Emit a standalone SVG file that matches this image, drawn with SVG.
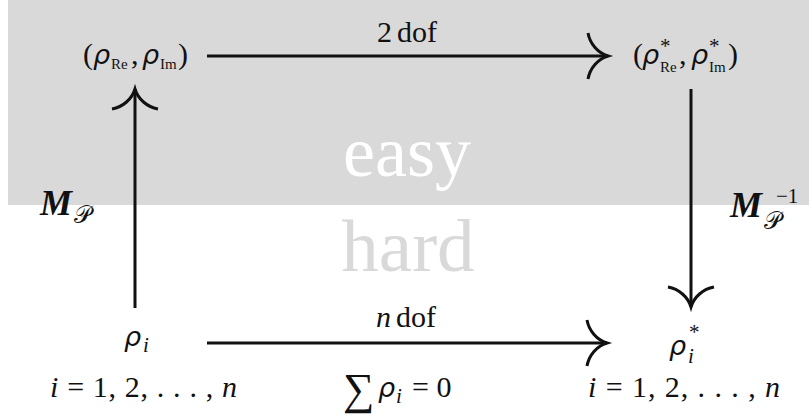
<svg xmlns="http://www.w3.org/2000/svg" width="809" height="419" viewBox="0 0 809 419">
  <style>
    text { fill: #111; }
    .m { font-size: 30px; }
    .it { font-style: italic; }
    .rho { font-style: italic; font-size: 27px; }
    .sub { font-size: 15px; }
    .sc { font-size: 21px; }
    .big { font-size: 72px; }
    .bm { font-weight: bold; font-style: italic; font-size: 36px; }
    .cal { font-size: 24px; }
    .conn { stroke: #111; stroke-width: 3; fill: none; marker-end: url(#arr); }
  </style>
  <defs>
    <marker id="arr" markerUnits="userSpaceOnUse" orient="auto" refX="0" refY="0" markerWidth="30" markerHeight="60" viewBox="-25 -30 30 60" overflow="visible">
      <path d="M-20,-23 C-18,-12 -10,-3 0,0 C-10,3 -18,12 -20,23" fill="none" stroke="#111" stroke-width="3"/>
    </marker>
  </defs>

  <rect x="8" y="0" width="801" height="205" fill="#d9d9d9"/>

  <g id="region-labels">
    <text x="407" y="176" text-anchor="middle" class="big" style="font-family:'Liberation Serif', serif;fill:#ffffff">easy</text>
    <text x="408" y="271" text-anchor="middle" class="big" style="font-family:'Liberation Serif', serif;fill:#d9d9d9;font-size:75px">hard</text>
  </g>

  <g id="connectors">
    <path class="conn" d="M207,56 L608,56"/>
    <path class="conn" d="M207,343 L607,343"/>
    <path class="conn" d="M135,308 L135,89"/>
    <path class="conn" d="M691,89 L691,307"/>
  </g>

  <g id="edge-labels">
    <text x="407" y="42" text-anchor="middle" class="m" style="font-family:'Liberation Serif', serif">2<tspan dx="5">dof</tspan></text>
    <text x="406" y="327" text-anchor="middle" class="m" style="font-family:'Liberation Serif', serif"><tspan class="it">n</tspan><tspan dx="5">dof</tspan></text>
    <text x="40" y="215" class="bm" style="font-family:'Liberation Serif', serif">M</text>
    <text x="74" y="223" class="cal" style="font-family:'Liberation Serif', serif">𝒫</text>
    <text x="730" y="217" class="bm" style="font-family:'Liberation Serif', serif">M</text>
    <text x="764" y="229" class="cal" style="font-family:'Liberation Serif', serif">𝒫</text>
    <text x="776" y="203" class="sc" style="font-family:'Liberation Serif', serif">−1</text>
  </g>

  <g id="node-top-left">
    <text x="83" y="64" class="m" style="font-family:'Liberation Serif', serif">(</text>
    <text x="93" y="64" class="rho" style="font-family:'DejaVu Sans', sans-serif">ρ</text>
    <text x="111" y="69" class="sub" style="font-family:'Liberation Serif', serif">Re</text>
    <text x="131" y="64" class="m" style="font-family:'Liberation Serif', serif">,</text>
    <text x="142" y="64" class="rho" style="font-family:'DejaVu Sans', sans-serif">ρ</text>
    <text x="160" y="69" class="sub" style="font-family:'Liberation Serif', serif">Im</text>
    <text x="178" y="64" class="m" style="font-family:'Liberation Serif', serif">)</text>
  </g>

  <g id="node-top-right">
    <text x="633" y="64" class="m" style="font-family:'Liberation Serif', serif">(</text>
    <text x="642" y="64" class="rho" style="font-family:'DejaVu Sans', sans-serif">ρ</text>
    <text x="660" y="53" class="sc" style="font-family:'Liberation Serif', serif">*</text>
    <text x="660" y="72" class="sub" style="font-family:'Liberation Serif', serif">Re</text>
    <text x="679" y="64" class="m" style="font-family:'Liberation Serif', serif">,</text>
    <text x="691" y="64" class="rho" style="font-family:'DejaVu Sans', sans-serif">ρ</text>
    <text x="709" y="53" class="sc" style="font-family:'Liberation Serif', serif">*</text>
    <text x="709" y="72" class="sub" style="font-family:'Liberation Serif', serif">Im</text>
    <text x="728" y="64" class="m" style="font-family:'Liberation Serif', serif">)</text>
  </g>

  <g id="node-bottom-left">
    <text x="124" y="346" class="rho" style="font-family:'DejaVu Sans', sans-serif">ρ</text>
    <text x="143" y="352" class="sc it" style="font-family:'Liberation Serif', serif">i</text>
    <text x="50" y="397" class="m" textLength="187" style="font-family:'Liberation Serif', serif"><tspan class="it">i</tspan> = 1, 2, . . . , <tspan class="it">n</tspan></text>
  </g>

  <g id="node-bottom-right">
    <text x="669" y="355" class="rho" style="font-family:'DejaVu Sans', sans-serif">ρ</text>
    <text x="689" y="339" class="sc" style="font-family:'Liberation Serif', serif">*</text>
    <text x="688" y="363" class="sc it" style="font-family:'Liberation Serif', serif">i</text>
    <text x="588" y="397" class="m" textLength="192" style="font-family:'Liberation Serif', serif"><tspan class="it">i</tspan> = 1, 2, . . . , <tspan class="it">n</tspan></text>
  </g>

  <g id="constraint">
    <text x="343" y="404" style="font-family:'Liberation Serif', serif;font-size:44px">∑</text>
    <text x="378" y="397" class="rho" style="font-family:'DejaVu Sans', sans-serif">ρ</text>
    <text x="396" y="403" class="sc it" style="font-family:'Liberation Serif', serif">i</text>
    <text x="412" y="397" class="m" style="font-family:'Liberation Serif', serif">= 0</text>
  </g>
</svg>
